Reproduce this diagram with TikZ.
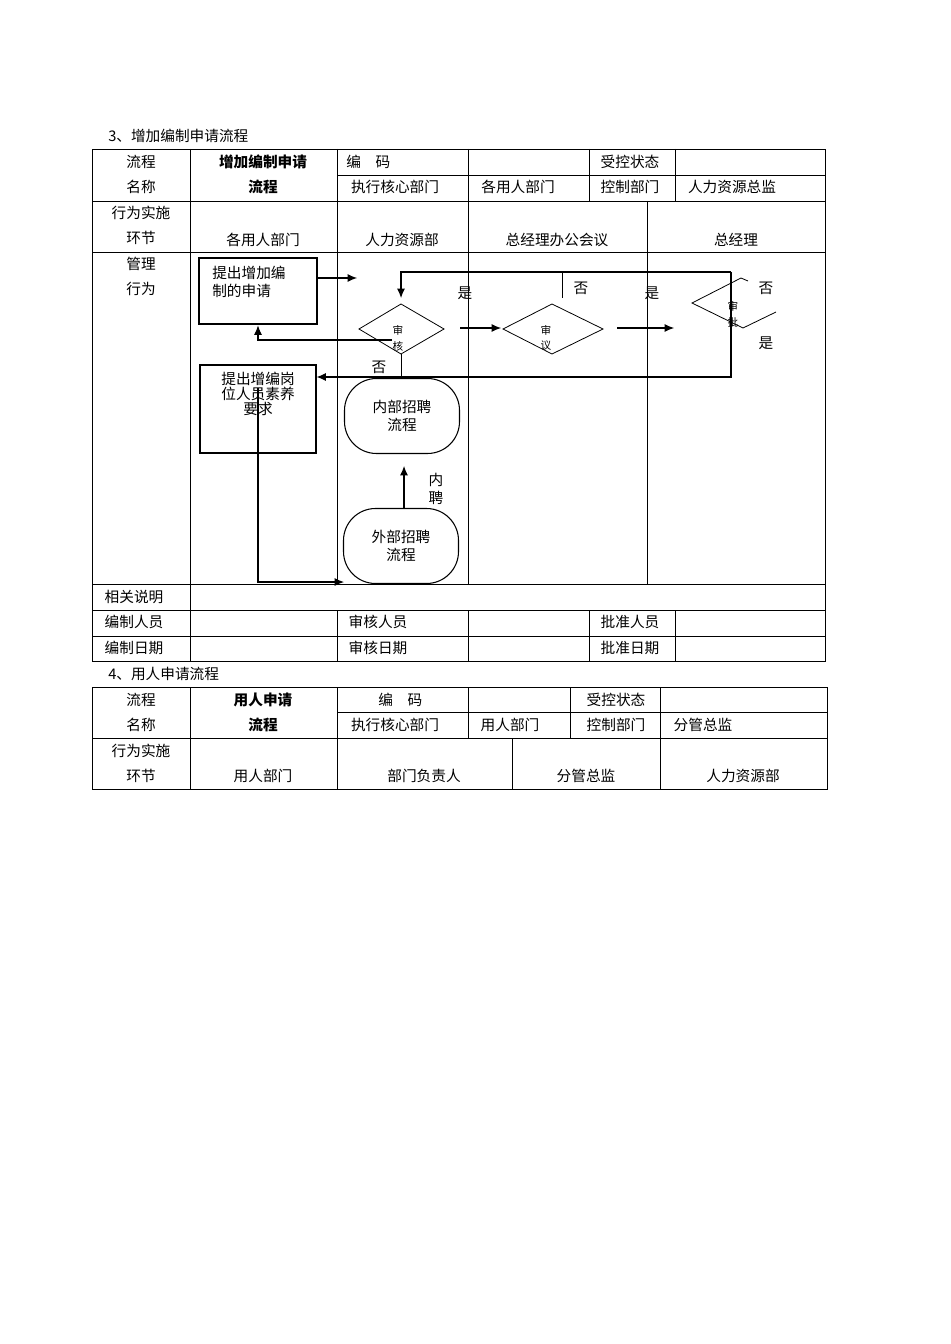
\documentclass[tikz,border=0pt]{standalone}
\usepackage{fontspec}
\setmainfont{Noto Sans CJK SC}
\usetikzlibrary{arrows.meta}
\begin{document}
\begin{tikzpicture}[x=0.75pt,y=-0.75pt,
  t/.style={font=\fontsize{11}{13}\selectfont,inner sep=0pt},
  tb/.style={font=\fontsize{11}{13}\selectfont\bfseries,inner sep=0pt},
  sm/.style={font=\fontsize{8}{9}\selectfont,inner sep=0pt},
  ln/.style={line width=0.6pt},
  ar/.style={line width=0.8pt,-{Latex[length=7pt,width=6pt]}},
  box/.style={draw,line width=0.8pt,inner sep=0pt}]
\useasboundingbox (0,0) rectangle (950,1344);
% ===== Table 1 =====
\node[t,anchor=west] (t3) at (108,136) {3、增加编制申请流程};
\draw[ln] (92,149) rectangle (825,661);
\foreach \y in {201,252,584,610,636} \draw[ln] (92,\y) -- (825,\y);
\draw[ln] (337,175) -- (825,175);
\draw[ln] (190,149) -- (190,661);
\foreach \x in {337,468,589,675} \draw[ln] (\x,149) -- (\x,201);
\foreach \x in {337,468,647} \draw[line width=0.4pt] (\x,201) -- (\x,584);
\foreach \x in {337,468,589,675} \draw[ln] (\x,610) -- (\x,661);
\node[t] (a1) at (141,162) {流程};
\node[t] (a2) at (141,187) {名称};
\node[tb] (a3) at (263,162) {增加编制申请};
\node[tb] (a4) at (263,187) {流程};
\node[t,anchor=west] (a5) at (346,162) {编\quad 码};
\node[t] (a6) at (630,162) {受控状态};
\node[t] (a7) at (395,187) {执行核心部门};
\node[t] (a8) at (518,187) {各用人部门};
\node[t] (a9) at (630,187) {控制部门};
\node[t] (a10) at (732,187) {人力资源总监};
\node[t] (b1) at (141,213) {行为实施};
\node[t] (b2) at (141,238) {环节};
\node[t] (b3) at (263,240) {各用人部门};
\node[t] (b4) at (402,240) {人力资源部};
\node[t] (b5) at (557,240) {总经理办公会议};
\node[t] (b6) at (736,240) {总经理};
\node[t] (c1) at (141,264) {管理};
\node[t] (c2) at (141,289) {行为};
\node[t] (d1) at (134,597) {相关说明};
\node[t] (d2) at (134,622) {编制人员};
\node[t] (d3) at (378,622) {审核人员};
\node[t] (d4) at (630,622) {批准人员};
\node[t] (d5) at (134,648) {编制日期};
\node[t] (d6) at (378,648) {审核日期};
\node[t] (d7) at (630,648) {批准日期};
% ===== Flow =====
\node[draw,line width=2.2pt,minimum width=118pt*0.75,minimum height=66pt*0.75,inner sep=0pt] (n1) at (258,291) {};
\node[t,align=left,anchor=north west] (n1t) at (212,266) {提出增加编\\制的申请};
\node[box,minimum width=116pt*0.75,minimum height=88pt*0.75] (n2) at (258,409) {};
\node[t,align=center,anchor=north] (n2t) at (258,372) {提出增编岗\\[-2pt]位人员素养\\[-2pt]要求};
\coordinate (e1) at (357,278);
\draw[ar] (n1.east |- e1) -- (e1);
% 审核
\draw[ln] (359,329) coordinate (d1l) -- (401,304) -- (444,329) -- (401,354) coordinate (d1b) -- cycle;
\node[sm] (s1) at (398,330) {审};
\node[sm] (s2) at (398,346) {核};
% 审议
\draw[ln] (503,329) -- (552,304) -- (603,329) -- (552,354) -- cycle;
\node[sm] (s3) at (546,330) {审};
\node[sm] (s4) at (546,346) {议};
% 审批 (partial)
\draw[ln] (748,281) -- (741,278) -- (692,303) -- (743,328) -- (776,312);
\node[sm] (s5) at (733,306) {审};
\node[sm] (s6) at (733,322) {批};
% arrows
\coordinate (p1) at (460,328); \coordinate (p2) at (501,328);
\draw[ar] (p1) -- (p2);
\coordinate (p3) at (617,328); \coordinate (p4) at (674,328);
\draw[ar] (p3) -- (p4);
% top loop
\coordinate (q1) at (731,272); \coordinate (q2) at (401,272); \coordinate (q3) at (401,298);
\draw[ar] (q1) -- (q2) -- (q3);
\coordinate (q4) at (562,272); \coordinate (q5) at (562,298);
\draw[ln] (q4) -- (q5);
% right loop to box2
\coordinate (r1) at (731,377); \coordinate (r2) at (401,377);
\draw[ar] (q1) -- (r1) -- (n2.east |- r1);
\draw[ln] (d1b) -- (r2);
% back to box1
\coordinate (u1) at (392,340); \coordinate (u2) at (258,340);
\draw[ar] (u1) -- (u2) -- (n1.south);
% stadiums
\node[draw,line width=0.8pt,rounded corners=24pt,minimum width=115pt*0.75,minimum height=75pt*0.75,inner sep=0pt] (n3) at (402,416) {};
\node[t,align=center] (n3t) at (402,416) {内部招聘\\流程};
\node[draw,line width=0.8pt,rounded corners=24pt,minimum width=115pt*0.75,minimum height=75pt*0.75,inner sep=0pt] (n4) at (401,546) {};
\node[t,align=center] (n4t) at (401,546) {外部招聘\\流程};
\coordinate (v1) at (404,466);
\draw[ar] (n4.north -| v1) -- (v1);
\node[t,align=center] (l7) at (436,489) {内\\聘};
% bottom path
\coordinate (w1) at (258,388); \coordinate (w2) at (258,582); \coordinate (w3) at (344,582);
\draw[ar] (w1) -- (w2) -- (w3);
% labels
\node[t] (l1) at (465,293) {是};
\node[t] (l2) at (581,288) {否};
\node[t] (l3) at (652,293) {是};
\node[t] (l4) at (766,288) {否};
\node[t] (l5) at (766,343) {是};
\node[t] (l6) at (379,367) {否};
% ===== Table 2 =====
\node[t,anchor=west] (t4) at (108,674) {4、用人申请流程};
\draw[ln] (92,687) rectangle (827,789);
\draw[ln] (337,712) -- (827,712);
\draw[ln] (92,738) -- (827,738);
\draw[ln] (190,687) -- (190,789);
\foreach \x in {337,468,570,660} \draw[ln] (\x,687) -- (\x,738);
\foreach \x in {337,512,660} \draw[ln] (\x,738) -- (\x,789);
\node[t] (f1) at (141,700) {流程};
\node[t] (f2) at (141,725) {名称};
\node[tb] (f3) at (263,700) {用人申请};
\node[tb] (f4) at (263,725) {流程};
\node[t,anchor=west] (f5) at (378,700) {编\quad 码};
\node[t] (f6) at (616,700) {受控状态};
\node[t] (f7) at (395,725) {执行核心部门};
\node[t] (f8) at (510,725) {用人部门};
\node[t] (f9) at (616,725) {控制部门};
\node[t] (f10) at (703,725) {分管总监};
\node[t] (g1) at (141,751) {行为实施};
\node[t] (g2) at (141,776) {环节};
\node[t] (g3) at (263,776) {用人部门};
\node[t] (g4) at (424,776) {部门负责人};
\node[t] (g5) at (586,776) {分管总监};
\node[t] (g6) at (743,776) {人力资源部};
\end{tikzpicture}
\end{document}
